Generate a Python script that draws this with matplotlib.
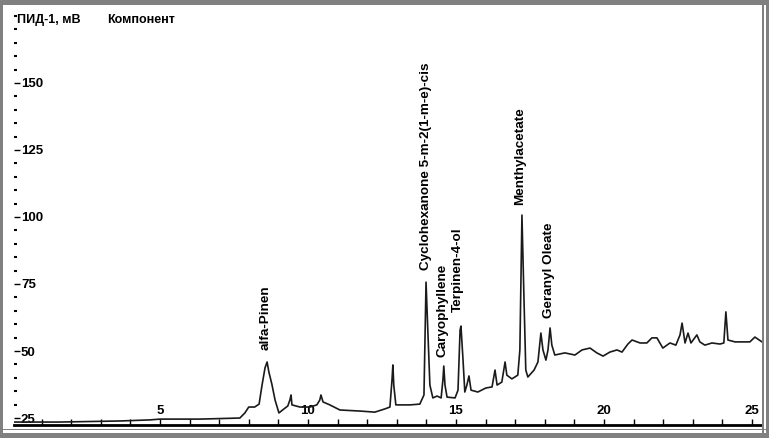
import matplotlib
matplotlib.use("Agg")
import matplotlib.pyplot as plt
from matplotlib.patches import Rectangle
from matplotlib.ticker import MultipleLocator

plt.rcParams["font.family"] = ["Liberation Sans", "DejaVu Sans"]

# retention time, min
times = [0.07, 1.6, 3.65, 4.66, 5.0, 6.35, 7.7, 7.87, 8.0, 8.2, 8.35, 8.45,
         8.55, 8.62, 8.68, 8.78, 8.89, 9.02, 9.19, 9.32, 9.39, 9.43, 9.46,
         9.73, 10.07, 10.3, 10.4, 10.44, 10.51, 10.74, 11.08, 11.76, 12.26,
         12.6, 12.77, 12.84, 12.87, 12.9, 12.97, 13.45, 13.78, 13.92, 13.99,
         14.05, 14.12, 14.22, 14.36, 14.5, 14.56, 14.59, 14.63, 14.7, 14.97,
         15.07, 15.14, 15.17, 15.24, 15.3, 15.37, 15.44, 15.51, 15.74, 16.01,
         16.22, 16.32, 16.39, 16.55, 16.66, 16.72, 16.89, 17.09, 17.16, 17.23,
         17.3, 17.36, 17.43, 17.64, 17.77, 17.87, 17.94, 18.04, 18.11, 18.18,
         18.24, 18.34, 18.68, 19.02, 19.26, 19.53, 19.76, 19.97, 20.2, 20.44,
         20.61, 20.81, 20.95, 21.22, 21.45, 21.62, 21.79, 21.99, 22.23, 22.43,
         22.57, 22.64, 22.74, 22.84, 22.94, 23.14, 23.24, 23.41, 23.65, 23.92,
         24.05, 24.12, 24.19, 24.43, 24.93, 25.1, 25.34]

# detector signal, mV
signal = [23.5, 23.5, 23.9, 24.3, 24.6, 24.6, 25.0, 26.9, 29.1, 29.1, 30.2,
          37.3, 43.7, 45.9, 42.2, 37.7, 31.7, 26.9, 28.4, 29.5, 31.7, 33.6,
          29.9, 29.1, 29.1, 29.9, 31.7, 33.6, 31.0, 29.9, 28.0, 27.6, 27.2,
          28.4, 29.1, 39.2, 44.8, 37.3, 29.9, 29.9, 30.2, 33.6, 75.7, 57.8,
          37.3, 32.5, 33.2, 32.5, 39.2, 44.4, 37.3, 32.8, 32.5, 35.4, 57.8,
          59.3, 46.6, 34.7, 37.3, 40.7, 35.4, 34.7, 36.2, 36.6, 42.9, 37.3,
          38.4, 45.9, 41.0, 39.6, 41.0, 50.4, 100.7, 69.0, 42.9, 40.3, 42.9,
          45.9, 56.7, 50.4, 46.6, 50.4, 58.6, 52.2, 48.5, 49.3, 48.5, 50.4,
          51.1, 49.3, 48.1, 49.6, 50.4, 49.6, 52.6, 54.1, 53.0, 53.0, 54.9,
          54.9, 51.1, 53.0, 52.2, 56.0, 60.4, 53.0, 56.7, 53.0, 56.0, 53.4,
          52.2, 53.0, 52.6, 53.0, 64.6, 54.1, 53.4, 53.4, 55.2, 53.4]

# labelled components: name, retention time, height of label foot
peak_names = ["alfa-Pinen", "Cyclohexanone 5-m-2(1-m-e)-cis", "Caryophyllene",
              "Terpinen-4-ol", "Menthylacetate", "Geranyl Oleate"]
peak_times = [8.58, 13.99, 14.56, 15.07, 17.16, 18.14]
label_base = [50.4, 80.2, 47.8, 64.5, 104.5, 62.3]

y_ticks = [25, 50, 75, 100, 125, 150]
x_ticks = [5, 10, 15, 20, 25]

W, H = 769, 438
fig = plt.figure(figsize=(W / 100, H / 100), dpi=100)

# grey scan frame
frame = dict(color="#808080", lw=0, zorder=0)
fig.patches.append(Rectangle((0, 1 - 5 / H), 1, 5 / H, transform=fig.transFigure, **frame))
fig.patches.append(Rectangle((0, 0), 3 / W, 1, transform=fig.transFigure, **frame))
fig.patches.append(Rectangle((0, 0), 1, 5 / H, transform=fig.transFigure, **frame))
fig.patches.append(Rectangle((1 - 3 / W, 0), 3 / W, 1, transform=fig.transFigure, **frame))
fig.patches.append(Rectangle((1 - 7 / W, 0), 1.5 / W, 1, transform=fig.transFigure, **frame))
fig.patches.append(Rectangle((0, 8 / H), 1, 1.5 / H, transform=fig.transFigure, **frame))

ax = fig.add_axes([14 / W, 13 / H, 748 / W, 419 / H])
ax.plot(times, signal, color="#1a1a1a", lw=1.2)

ax.set_xlim(0.07, 25.34)
ax.set_ylim(22.4, 178.7)

for s in ["top", "right", "left"]:
    ax.spines[s].set_visible(False)
ax.spines["bottom"].set_linewidth(2)

ax.set_yticks(y_ticks)
ax.yaxis.set_minor_locator(MultipleLocator(5))
ax.tick_params(axis="y", which="major", direction="in", length=4, width=1,
               pad=-5, labelsize=9.5)
ax.tick_params(axis="y", which="minor", direction="in", length=2, width=1.5)
for lab in ax.get_yticklabels():
    lab.set_horizontalalignment("left")
    lab.set_fontweight("bold")

ax.set_xticks(x_ticks)
ax.xaxis.set_minor_locator(MultipleLocator(1))
ax.tick_params(axis="x", which="both", direction="in", length=4, width=1,
               pad=-6, labelsize=9.5)
for lab in ax.get_xticklabels():
    lab.set_verticalalignment("bottom")
    lab.set_fontweight("bold")

ax.text(0.004, 0.966, "ПИД-1, мВ", transform=ax.transAxes, fontsize=9,
        fontweight="bold", va="center", ha="left")
ax.text(0.125, 0.966, "Компонент", transform=ax.transAxes, fontsize=9,
        fontweight="bold", va="center", ha="left")

for name, t, yb in zip(peak_names, peak_times, label_base):
    ax.text(t, yb, name, rotation=90, ha="center", va="bottom",
            fontsize=9.7, fontweight="bold")

fig.savefig("out.png", dpi=100)
